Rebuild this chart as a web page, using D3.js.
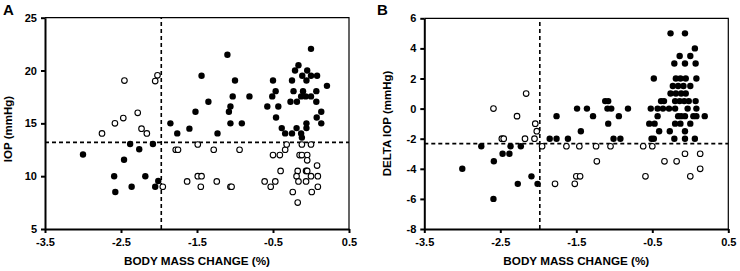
<!DOCTYPE html>
<html><head><meta charset="utf-8">
<script src="https://cdn.jsdelivr.net/npm/d3@7"></script>
<style>html,body{margin:0;padding:0;background:#fff;}svg{display:block;font-family:"Liberation Sans",Arial,sans-serif;}</style>
</head><body>
<script>
// ---------- Data ----------
const xTicks = [-3.5, -2.5, -1.5, -0.5, 0.5];
const yTicksA = [5, 10, 15, 20, 25];
const yTicksB = [-8, -6, -4, -2, 0, 2, 4, 6];
const refA = {x: -1.97, y: 13.2};
const refB = {x: -1.98, y: -2.33};

// Panel A: [body mass change %, IOP mmHg]
const aFilled = [
 [-3.0,12.05],[-2.46,11.55],[-2.38,13.05],[-2.08,13.05],[-2.26,12.55],[-2.59,10.0],[-2.18,10.0],[-2.01,9.55],[-2.05,9.0],[-2.36,9.0],[-2.575,8.5],
 [-1.85,15.0],[-1.60,14.5],[-1.76,14.05],[-1.52,16.1],[-1.44,19.5],[-1.10,21.5],[-1.35,17.05],[-1.00,19.05],[-1.03,17.55],[-0.81,17.55],[-1.06,16.6],[-1.08,16.1],[-1.06,15.0],[-0.91,15.0],[-1.23,14.05],
 [0.0,22.05],[-0.5,19.05],[-0.465,18.05],[-0.51,17.55],[-0.575,16.6],[-0.43,16.6],[-0.46,15.55],[-0.385,14.55],[-0.34,14.05],[-0.25,14.05],[-0.19,14.55],[-0.13,14.05],[-0.12,13.65],[-0.06,14.55],[-0.06,15.0],
 [-0.25,19.05],[-0.21,20.0],[-0.165,20.5],[-0.115,19.5],[-0.05,20.0],[0.0,19.5],[0.08,19.5],[-0.06,19.05],[-0.23,18.05],[-0.105,18.05],[-0.13,17.55],[-0.07,17.55],[0.0,17.55],[-0.27,17.05],[-0.185,17.05],[0.07,18.05],[0.07,17.05],[0.21,18.55],[0.135,16.1],[0.075,15.55],[0.135,15.0]
];
const aOpen = [
 [-2.455,19.05],[-2.02,19.55],[-2.05,19.0],[-2.28,16.0],[-2.47,15.5],[-2.58,15.0],[-2.75,14.05],[-2.23,14.5],[-2.16,14.05],[-1.78,12.5],[-1.75,12.5],[-1.95,9.0],[-1.63,9.5],
 [-1.49,13.0],[-1.28,12.5],[-0.94,12.5],[-1.49,10.0],[-1.44,10.0],[-1.45,9.0],[-1.24,9.5],[-1.06,9.0],[-1.045,9.0],
 [-0.61,9.5],[-0.53,9.0],[-0.47,9.5],[-0.40,10.5],[-0.50,12.0],[-0.41,12.0],[-0.34,12.5],[-0.32,13.0],[-0.12,13.0],[0.0,13.0],[-0.15,12.0],[-0.12,12.0],[-0.05,12.0],[-0.05,11.5],
 [-0.175,10.5],[-0.065,10.5],[-0.05,10.5],[0.08,11.0],[-0.19,10.0],[0.0,10.0],[0.09,10.0],[-0.165,9.5],[-0.065,9.5],[0.09,9.0],[-0.24,8.5],[0.01,8.5],[-0.175,7.5]
];

// Panel B: [body mass change %, delta IOP mmHg]
const bFilled = [
 [-3.0,-4.0],[-2.75,-2.5],[-2.365,-2.5],[-2.23,-2.5],[-2.47,-3.0],[-2.38,-3.0],[-2.585,-3.5],[-2.09,-4.5],[-2.27,-5.0],[-2.01,-5.0],[-2.59,-6.0],
 [-1.85,-2.0],[-1.76,-2.0],[-1.61,-2.0],[-1.76,-0.5],[-1.49,0.0],[-1.36,0.0],[-1.28,-0.5],[-1.44,-1.5],[-1.12,0.5],[-1.08,0.5],[-1.09,0.0],[-1.04,0.0],[-1.08,-1.0],[-0.94,-0.5],[-0.82,0.0],[-1.01,-2.0],[-0.92,-2.0],
 [-0.48,2.0],[-0.26,5.0],[-0.07,5.0],[0.06,4.0],[-0.14,3.5],[0.0,3.5],[-0.21,3.0],[-0.07,3.0],[0.07,3.0],
 [-0.19,2.0],[-0.13,2.0],[-0.06,2.0],[0.08,2.0],
 [-0.23,1.5],[-0.16,1.5],[-0.09,1.5],[0.0,1.5],
 [-0.26,1.0],[-0.19,1.0],[-0.12,1.0],[-0.06,1.0],
 [-0.385,0.5],[-0.346,0.5],[-0.2,0.5],[-0.14,0.5],[-0.08,0.5],[-0.02,0.5],[0.07,0.5],
 [-0.52,0.0],[-0.43,0.0],[-0.36,0.0],[-0.28,0.0],[-0.2,0.0],[-0.035,0.0],[0.08,0.0],
 [-0.43,-0.5],[-0.16,-0.5],[-0.12,-0.5],[-0.07,-0.5],[0.04,-0.5],[0.08,-0.5],[0.19,-0.5],
 [-0.54,-1.0],[-0.47,-1.0],[-0.2,-1.0],[-0.13,-1.0],[0.0,-1.0],
 [-0.41,-1.5],[-0.27,-1.5],[-0.07,-1.5],
 [-0.51,-2.0],[-0.48,-2.0],[-0.21,-2.0],[-0.07,-2.0],[0.06,-2.0]
];
const bOpen = [
 [-2.16,1.0],[-2.59,0.0],[-2.28,-0.5],[-2.04,-1.0],[-2.02,-1.5],[-2.48,-2.0],[-2.455,-2.0],[-2.175,-2.0],[-2.05,-2.0],[-1.95,-2.5],
 [-1.63,-2.5],[-1.46,-2.5],[-1.24,-2.5],[-1.05,-2.5],[-0.62,-2.5],[-0.50,-2.5],[-1.78,-5.0],[-1.52,-5.0],[-1.50,-4.5],[-1.45,-4.5],[-1.23,-3.5],
 [-0.34,-3.5],[-0.18,-3.5],[-0.07,-3.0],[0.13,-3.0],[0.13,-4.0],[0.0,-4.5],[-0.59,-4.5]
];

// ---------- Drawing ----------
const W = 740, H = 271;
const svg = d3.select("body").append("svg").attr("width", W).attr("height", H);
const fmtX = d => d.toFixed(1);

function panel(o) {
  const x = d3.scaleLinear().domain([-3.5, 0.5]).range([o.left, o.right]);
  const y = d3.scaleLinear().domain(o.yDomain).range([o.bottom, o.top]);
  const g = svg.append("g");

  g.append("path")
    .attr("d", `M${o.left},${o.top}H${o.right}V${o.bottom}`)
    .attr("fill", "none").attr("stroke", "#000").attr("stroke-width", 1.2);

  g.append("line").attr("x1", o.left).attr("x2", o.right).attr("y1", y(o.ref.y)).attr("y2", y(o.ref.y))
    .attr("stroke", "#000").attr("stroke-width", 1.6).attr("stroke-dasharray", "4,3");
  g.append("line").attr("x1", x(o.ref.x)).attr("x2", x(o.ref.x)).attr("y1", o.bottom).attr("y2", o.top)
    .attr("stroke", "#000").attr("stroke-width", 1.6).attr("stroke-dasharray", "4,3");

  const ax = g.append("g").attr("transform", `translate(0,${o.bottom})`)
    .call(d3.axisBottom(x).tickValues(xTicks).tickFormat(fmtX).tickSize(4).tickSizeOuter(0));
  const ay = g.append("g").attr("transform", `translate(${o.left},0)`)
    .call(d3.axisLeft(y).tickValues(o.yTicks).tickFormat(d => String(d)).tickSize(4).tickSizeOuter(0));
  [ax, ay].forEach(a => {
    a.select(".domain").attr("stroke", "#000").attr("stroke-width", 2);
    a.selectAll(".tick line").attr("stroke", "#000").attr("stroke-width", 2);
    a.selectAll(".tick text").attr("fill", "#000").attr("font-size", 11).attr("font-weight", "bold")
      .attr("font-family", "'Liberation Sans', Arial, sans-serif");
  });
  ax.selectAll(".tick text").attr("dy", "0.9em");
  ay.selectAll(".tick text").attr("dx", "-1");

  g.append("g").selectAll("circle").data(o.filled).join("circle")
    .attr("cx", d => x(d[0])).attr("cy", d => y(d[1])).attr("r", 3.2).attr("fill", "#000");
  g.append("g").selectAll("circle").data(o.open).join("circle")
    .attr("cx", d => x(d[0])).attr("cy", d => y(d[1])).attr("r", 2.8)
    .attr("fill", "#fff").attr("stroke", "#000").attr("stroke-width", 1.1);

  g.append("text").attr("x", (o.left + o.right) / 2).attr("y", 265).attr("text-anchor", "middle")
    .attr("font-size", 11.7).attr("font-weight", "bold").text("BODY MASS CHANGE (%)");
  g.append("text").attr("transform", `translate(${o.ytx},${o.yty}) rotate(-90)`).attr("text-anchor", "middle")
    .attr("font-size", 11.5).attr("font-weight", "bold").text(o.ylabel);
  g.append("text").attr("x", o.lx).attr("y", 15).attr("font-size", 15).attr("font-weight", "bold").text(o.letter);
}

panel({left: 45, right: 349, top: 17.7, bottom: 229, yDomain: [5, 25], yTicks: yTicksA,
  ref: refA, filled: aFilled, open: aOpen, ylabel: "IOP (mmHg)", ytx: 11.5, yty: 129, letter: "A", lx: 3});
panel({left: 424.3, right: 728.3, top: 18.3, bottom: 229, yDomain: [-8, 6], yTicks: yTicksB,
  ref: refB, filled: bFilled, open: bOpen, ylabel: "DELTA IOP (mmHg)", ytx: 390.5, yty: 123.5, letter: "B", lx: 377});
</script>
</body></html>
